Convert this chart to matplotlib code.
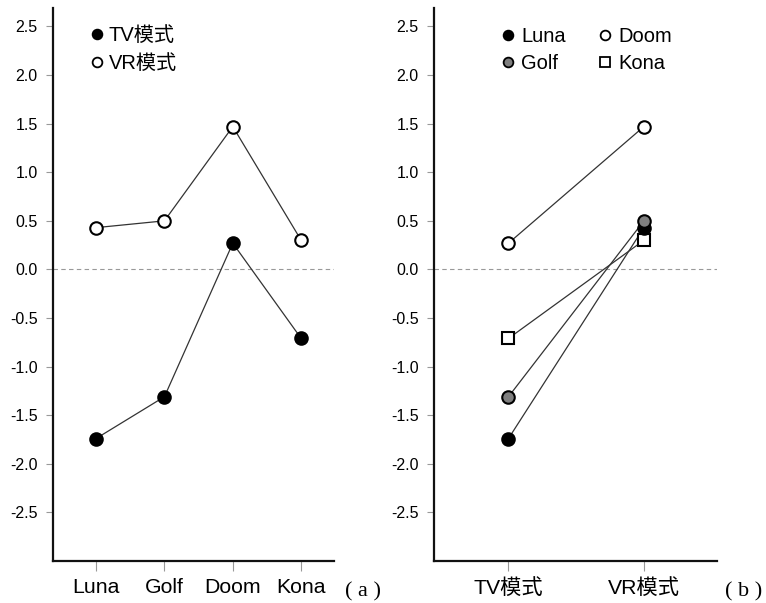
import matplotlib
matplotlib.use("Agg")
import matplotlib.pyplot as plt
from matplotlib.lines import Line2D

plt.rcParams['font.family'] = ['Liberation Sans', 'Noto Sans CJK SC', 'DejaVu Sans']

games = ["Luna", "Golf", "Doom", "Kona"]
modes = ["TV模式", "VR模式"]
tv_vals = [-1.74, -1.31, 0.27, -0.71]
vr_vals = [0.43, 0.50, 1.47, 0.30]
yticks = [2.5, 2.0, 1.5, 1.0, 0.5, 0.0, -0.5, -1.0, -1.5, -2.0, -2.5]

game_face = {"Luna": "black", "Golf": "#7f7f7f", "Doom": "white", "Kona": "white"}
game_marker = {"Luna": "o", "Golf": "o", "Doom": "o", "Kona": "s"}

fig = plt.figure(figsize=(7.66, 6.03), dpi=100)
axA = fig.add_axes([0.0692, 0.0697, 0.3668, 0.917])
axB = fig.add_axes([0.5666, 0.0697, 0.3694, 0.917])

line_kw = dict(color="#333333", lw=0.9)
ms = 9

def style(ax):
    for s in ["top", "right"]:
        ax.spines[s].set_visible(False)
    for s in ["left", "bottom"]:
        ax.spines[s].set_linewidth(1.6)
        ax.spines[s].set_color("#111111")
    ax.set_ylim(-3.0, 2.69)
    ax.set_yticks(yticks)
    ax.set_yticklabels([f"{v:.1f}" for v in yticks], fontsize=11.5)
    ax.tick_params(axis="y", length=5, width=0.8, color="#999999", pad=6)
    ax.tick_params(axis="x", length=7, width=0.8, color="#999999", pad=5, labelsize=15.3)
    ax.axhline(0, color="#999999", lw=0.8, ls=(0, (4, 3)), zorder=0)

# Panel (a)
x = list(range(len(games)))
axA.plot(x, vr_vals, **line_kw, zorder=1)
axA.plot(x, tv_vals, **line_kw, zorder=1)
axA.plot(x, vr_vals, ls="none", marker="o", ms=ms, mfc="white", mec="black", mew=1.5, zorder=3)
axA.plot(x, tv_vals, ls="none", marker="o", ms=ms, mfc="black", mec="black", mew=1.5, zorder=3)
axA.set_xticks(x)
axA.set_xticklabels(games)
axA.set_xlim(-0.63, 3.48)
style(axA)
hA = [Line2D([], [], ls="none", marker="o", ms=7, mfc="black", mec="black", mew=1.3),
      Line2D([], [], ls="none", marker="o", ms=7, mfc="white", mec="black", mew=1.3)]
axA.legend(hA, modes, loc="upper left", bbox_to_anchor=(0.108, 0.982), frameon=False,
           fontsize=14.5, handlelength=0.6, handletextpad=0.25, labelspacing=0.45, borderaxespad=0)

# Panel (b)
for i, g in enumerate(games):
    axB.plot([0, 1], [tv_vals[i], vr_vals[i]], **line_kw, zorder=1)
order = ["Kona", "Doom", "Luna", "Golf"]
for g in order:
    i = games.index(g)
    axB.plot([0, 1], [tv_vals[i], vr_vals[i]], ls="none", marker=game_marker[g],
             ms=ms if game_marker[g] == "o" else 8.5, mfc=game_face[g], mec="black", mew=1.5, zorder=3)
axB.set_xticks([0, 1])
axB.set_xticklabels(modes)
axB.set_xlim(-0.55, 1.54)
style(axB)
hB = []
for g in ["Luna", "Golf", "Doom", "Kona"]:
    hB.append(Line2D([], [], ls="none", marker=game_marker[g], ms=7 if game_marker[g] == "o" else 7.5,
                     mfc=game_face[g], mec="black", mew=1.3))
axB.legend(hB, ["Luna", "Golf", "Doom", "Kona"], ncol=2, loc="upper left", bbox_to_anchor=(0.212, 0.981),
           frameon=False, fontsize=14.5, handlelength=0.6, handletextpad=0.35, labelspacing=0.4,
           columnspacing=1.65, borderaxespad=0)

fig.text(0.4504, 0.01, "( a )", fontsize=16, family="Liberation Serif", ha="left", va="baseline")
fig.text(0.9465, 0.01, "( b )", fontsize=16, family="Liberation Serif", ha="left", va="baseline")

fig.savefig("out.png", dpi=100)
